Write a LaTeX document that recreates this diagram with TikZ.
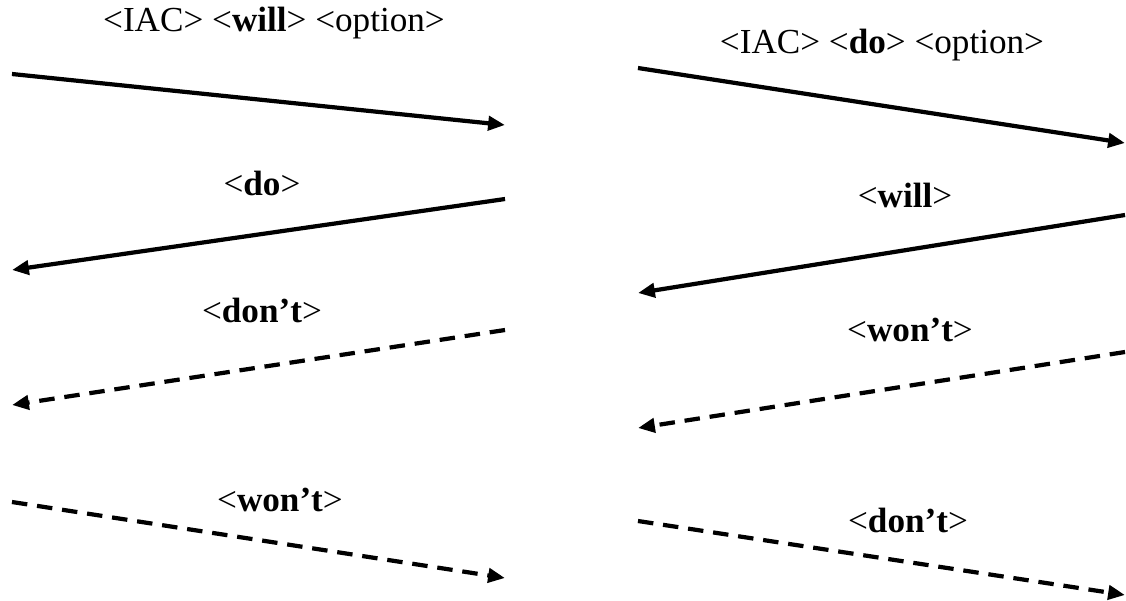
\documentclass[tikz,border=0pt]{standalone}
\usepackage{fontspec}
\setmainfont{Liberation Serif}
\usetikzlibrary{arrows.meta}

\begin{document}
\begin{tikzpicture}[x=0.025cm,y=-0.025cm,>={Triangle[length=12pt,width=10pt]},
  msg/.style={->,line width=3pt},
  refuse/.style={msg,dash pattern=on 11pt off 7pt},
  lbl/.style={font=\fontsize{25}{29}\selectfont,inner sep=0pt}]
  \useasboundingbox (0,0) rectangle (1126,600);
  \coordinate (willA) at (12,74);\coordinate (willB) at (505,125);
  \coordinate (doA) at (505,199);\coordinate (doB) at (12,270);
  \coordinate (dontA) at (505,330);\coordinate (dontB) at (12,405);
  \coordinate (wontA) at (12,502);\coordinate (wontB) at (505,578);
  \coordinate (rdoA) at (638,68);\coordinate (rdoB) at (1125,143);
  \coordinate (rwillA) at (1125,215);\coordinate (rwillB) at (638,293);
  \coordinate (rwontA) at (1125,352);\coordinate (rwontB) at (638,428);
  \coordinate (rdontA) at (638,521);\coordinate (rdontB) at (1125,595);
  \node[lbl](lwill)at(274,23){<IAC> <\textbf{will}> <option>};
  \node[lbl](ldo)at(262,183){<\textbf{do}>};
  \node[lbl](ldont)at(262,310){<\textbf{don't}>};
  \node[lbl](lwont)at(280,500){<\textbf{won't}>};
  \node[lbl](rdo)at(882,45){<IAC> <\textbf{do}> <option>};
  \node[lbl](rwill)at(905,195){<\textbf{will}>};
  \node[lbl](rwont)at(910,330){<\textbf{won't}>};
  \node[lbl](rdont)at(908,520){<\textbf{don't}>};
  \draw[msg](willA)--(willB);\draw[msg](doA)--(doB);
  \draw[refuse](dontA)--(dontB);\draw[refuse](wontA)--(wontB);
  \draw[msg](rdoA)--(rdoB);\draw[msg](rwillA)--(rwillB);
  \draw[refuse](rwontA)--(rwontB);\draw[refuse](rdontA)--(rdontB);
\end{tikzpicture}
\end{document}
